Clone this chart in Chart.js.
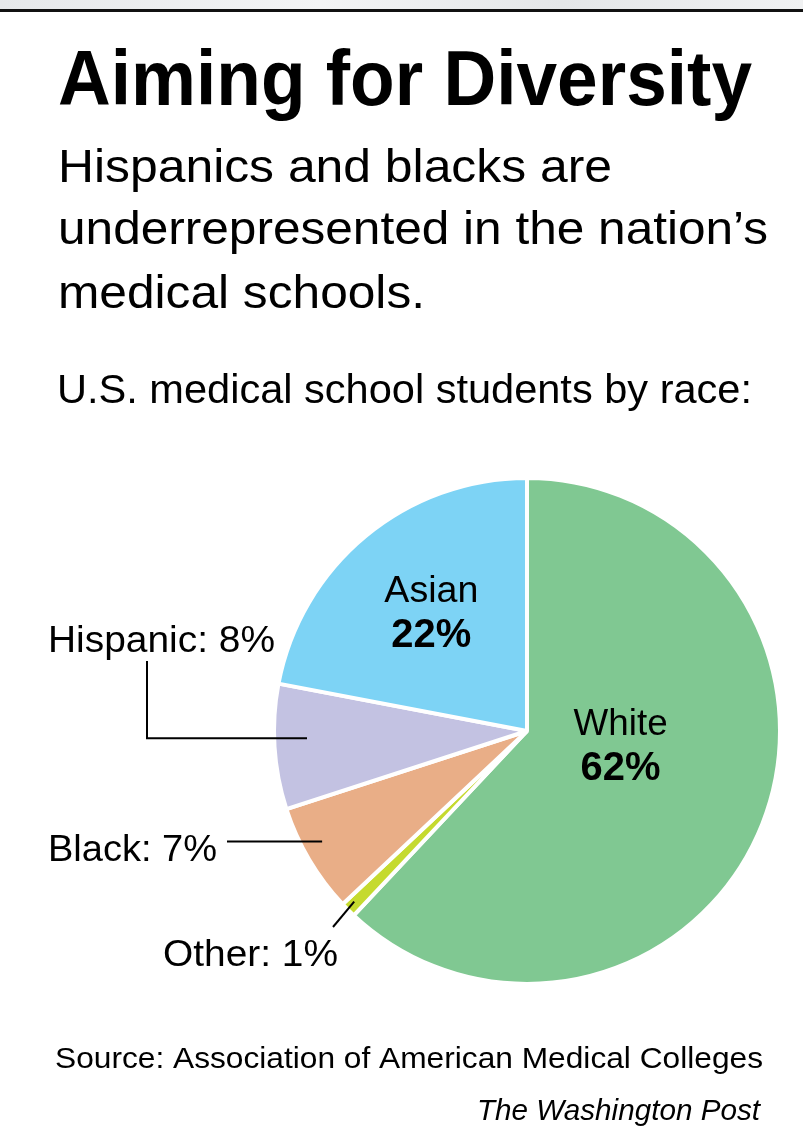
<!DOCTYPE html>
<html>
<head>
<meta charset="utf-8">
<script src="https://cdn.jsdelivr.net/npm/chart.js@4"></script>
<style>
  html, body { margin: 0; padding: 0; background: #fff; }
  #wrap { position: relative; width: 803px; height: 1143px; overflow: hidden; }
  #topbar { position: absolute; left: 0; top: 0; width: 803px; height: 9px;
    background: linear-gradient(to right, #e6e8ea, #f3f4f5 40%, #e4e6e8 70%, #f0f1f2); }
  #topline { position: absolute; left: 0; top: 9px; width: 803px; height: 3px; background: #111; }
  canvas { position: absolute; left: 0; top: 0; }
</style>
</head>
<body>
<div id="wrap">
  <div id="topbar"></div>
  <div id="topline"></div>
  <canvas id="pie-chart" width="803" height="1143"></canvas>
</div>
<script>
// slices, clockwise from 12 o'clock
const races = ['White', 'Other', 'Black', 'Hispanic', 'Asian'];
const shares = [62, 1, 7, 8, 22];
const sliceColors = ['#80c892', '#c5da2f', '#e9ae87', '#c3c2e2', '#7dd3f5'];

const title = 'Aiming for Diversity';
const subtitle = ['Hispanics and blacks are', 'underrepresented in the nation\u2019s', 'medical schools.'];
const chartLabel = 'U.S. medical school students by race:';
const source = 'Source: Association of American Medical Colleges';
const credit = 'The Washington Post';

const textFont = '"Liberation Sans", "DejaVu Sans", sans-serif';

// draw text stretched/squeezed to a given width
function fitText(ctx, text, x, y, w, align) {
  const m = ctx.measureText(text).width;
  const k = w / m;
  ctx.save();
  ctx.translate(x, y);
  ctx.scale(k, 1);
  ctx.textAlign = align || 'left';
  ctx.fillText(text, 0, 0);
  ctx.restore();
}

const textPlugin = {
  id: 'texts',
  afterDraw(chart) {
    const ctx = chart.ctx;
    const arcs = chart.getDatasetMeta(0).data;
    ctx.save();
    ctx.fillStyle = '#000';
    ctx.textBaseline = 'alphabetic';

    // heading block
    ctx.font = 'bold 77px ' + textFont;
    fitText(ctx, title, 58, 105, 694);
    ctx.font = '47px ' + textFont;
    fitText(ctx, subtitle[0], 58, 182, 554);
    fitText(ctx, subtitle[1], 58, 244, 710);
    fitText(ctx, subtitle[2], 58, 308, 367);
    ctx.font = '41px ' + textFont;
    fitText(ctx, chartLabel, 57, 403, 695);

    // inside labels
    const inside = (i, dx, dy) => {
      const p = arcs[i].tooltipPosition();
      ctx.font = '36px ' + textFont;
      fitText(ctx, races[i], p.x + dx, p.y + dy, races[i].length * 18.8, 'center');
      ctx.font = '600 41px ' + textFont;
      fitText(ctx, shares[i] + '%', p.x + dx, p.y + dy + 45, 80, 'center');
    };
    inside(0, -24, -43);
    inside(4, -15, -32);

    // outside labels with leader lines
    const anchor = (i, rFrac, aFrac) => {
      const a = arcs[i];
      const ang = a.startAngle + (a.endAngle - a.startAngle) * aFrac;
      return { x: a.x + Math.cos(ang) * a.outerRadius * rFrac, y: a.y + Math.sin(ang) * a.outerRadius * rFrac };
    };
    ctx.strokeStyle = '#000';
    ctx.lineWidth = 2;
    ctx.font = '37px ' + textFont;

    // Hispanic
    let p = anchor(3, 0.87, 0.56);
    fitText(ctx, races[3] + ': ' + shares[3] + '%', 48, 652, 227);
    ctx.beginPath();
    ctx.moveTo(147, 661); ctx.lineTo(147, p.y); ctx.lineTo(p.x, p.y);
    ctx.stroke();

    // Black
    p = anchor(2, 0.92, 0.59);
    fitText(ctx, races[2] + ': ' + shares[2] + '%', 48, 861, 169);
    ctx.beginPath();
    ctx.moveTo(227, p.y); ctx.lineTo(p.x, p.y);
    ctx.stroke();

    // Other
    p = anchor(1, 0.96, 0.6);
    fitText(ctx, races[1] + ': ' + shares[1] + '%', 163, 966, 175);
    ctx.beginPath();
    ctx.moveTo(333, 927); ctx.lineTo(p.x, p.y);
    ctx.stroke();

    // footer
    ctx.font = '29px ' + textFont;
    fitText(ctx, source, 55, 1068, 708);
    ctx.font = 'italic 30px ' + textFont;
    fitText(ctx, credit, 760, 1120, 283, 'right');
    ctx.restore();
  }
};

const config = {
  type: 'pie',
  data: {
    labels: races,
    datasets: [{
      data: shares,
      backgroundColor: sliceColors,
      borderColor: '#ffffff',
      borderWidth: 4,
      borderAlign: 'center'
    }]
  },
  options: {
    responsive: false,
    animation: false,
    layout: { padding: { left: 272, right: 21, top: 476, bottom: 157 } },
    plugins: { legend: { display: false }, tooltip: { enabled: false } }
  },
  plugins: [textPlugin]
};

window.onload = function() {
  var ctx = document.getElementById('pie-chart').getContext('2d');
  window.myPie = new Chart(ctx, config);
};
</script>
</body>
</html>
